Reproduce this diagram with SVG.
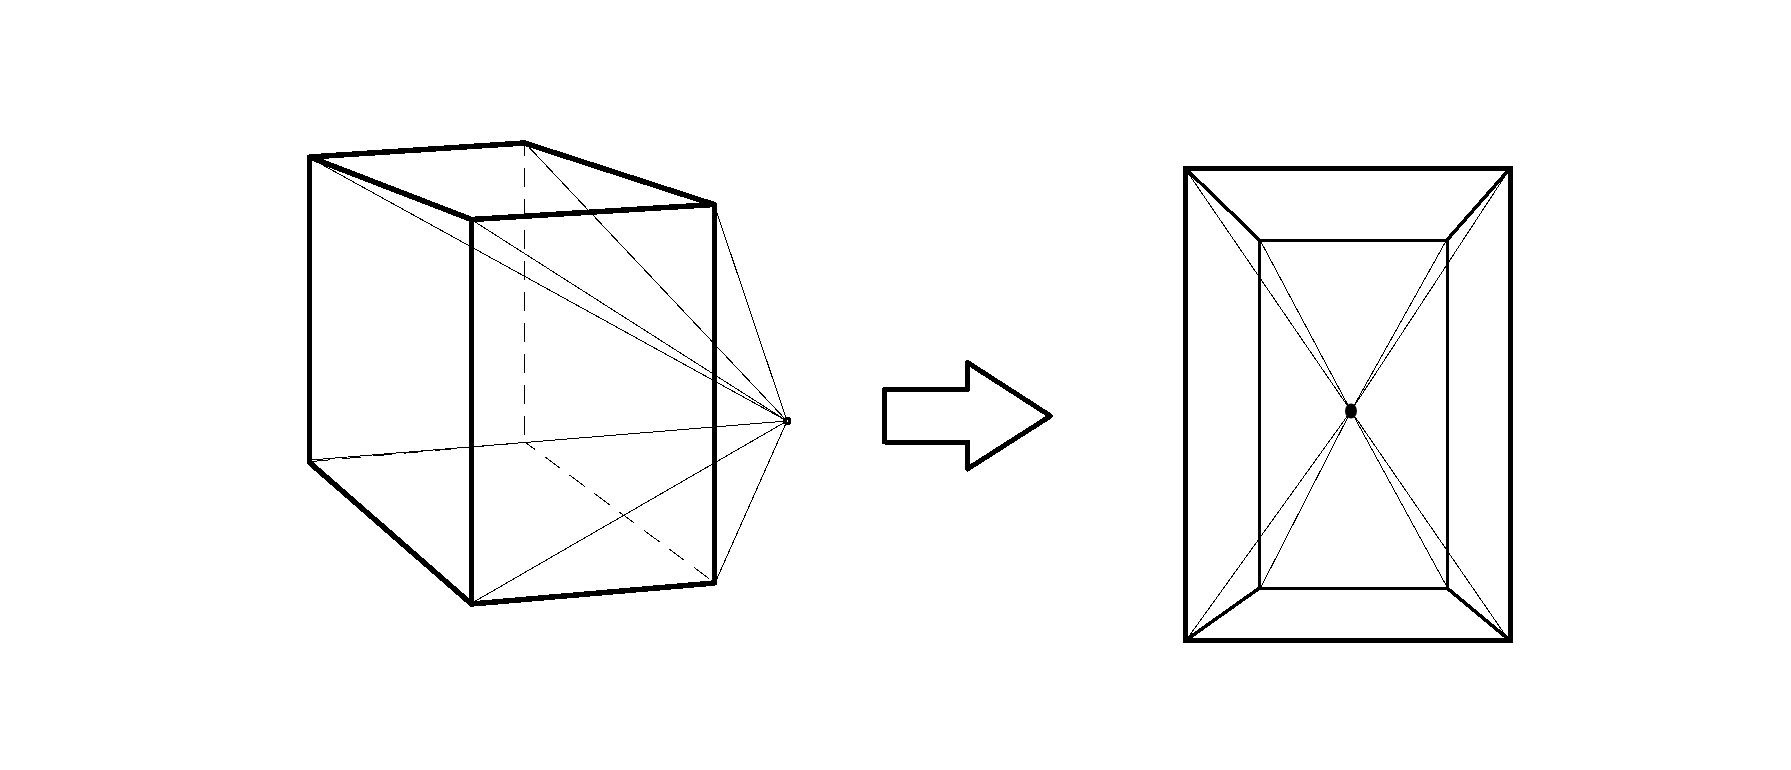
<svg xmlns="http://www.w3.org/2000/svg" width="1791" height="770" viewBox="0 0 1791 770">
<style>
.t{fill:none;stroke:#000;stroke-width:5.500;stroke-linecap:round;stroke-linejoin:round;shape-rendering:crispEdges}
.v{fill:none;stroke:#000;stroke-width:5;stroke-linecap:square;shape-rendering:crispEdges}
.m{fill:none;stroke:#000;stroke-width:5;stroke-linecap:round;stroke-linejoin:round;shape-rendering:crispEdges}
.n{fill:none;stroke:#000;stroke-width:1;shape-rendering:crispEdges}
.d{fill:none;stroke:#000;stroke-width:1;stroke-dasharray:19 12;shape-rendering:crispEdges}
</style>
<rect width="1791" height="770" fill="#fff"/>
<g id="connectors">
<path class="n" d="M310 158L787 421M472 220L787 421M525 143L787 421M714 204L787 421M311 460L787 421M472 603L787 421M715 583L787 421"/>
<path class="d" d="M524.500 143V441.700M524.500 441.700L715 583" stroke-dashoffset="6"/>
<path class="d" d="M311 461.500L524.500 442.500"/>
<path class="n" d="M1186 170L1351 411M1260 240L1351 411M1509 170L1351 411M1446 241L1351 411M1187 639L1351 411M1261 587L1351 411M1508 639L1351 411M1447 587L1351 411"/>
</g>
<g id="box">
<path class="t" d="M309.500 157L524.500 143L714 204.500L471.500 219.500ZM471.500 604L714.500 583M471.500 604L309.500 462.500"/>
<path class="v" d="M309.500 157V461M471.500 220V603M714.500 205V582"/>
</g>
<g id="point-left"><circle cx="787.300" cy="421" r="2.500" fill="#fff" stroke="#000" stroke-width="3.500" shape-rendering="crispEdges"/></g>
<g id="arrow"><path class="m" d="M884.500 389.500H967.500V362.500L1050.500 416L967.500 469V442H884.500Z"/></g>
<g id="outer"><path class="v" d="M1185.500 168.500H1510.500V640.500H1185.500Z"/></g>
<g id="inner"><rect x="1259.500" y="240" width="187.500" height="348" fill="none" stroke="#000" stroke-width="3" shape-rendering="crispEdges"/></g>
<g id="bevels"><path class="n" style="stroke-width:3.500;stroke-linecap:round" d="M1185.500 168.500L1259.500 240M1510 168.500L1447 240M1185.500 640.500L1259.500 588M1510 640.500L1447 588"/></g>
<g id="point-right"><ellipse cx="1351" cy="411" rx="6" ry="7.500" fill="#000"/></g>
</svg>
